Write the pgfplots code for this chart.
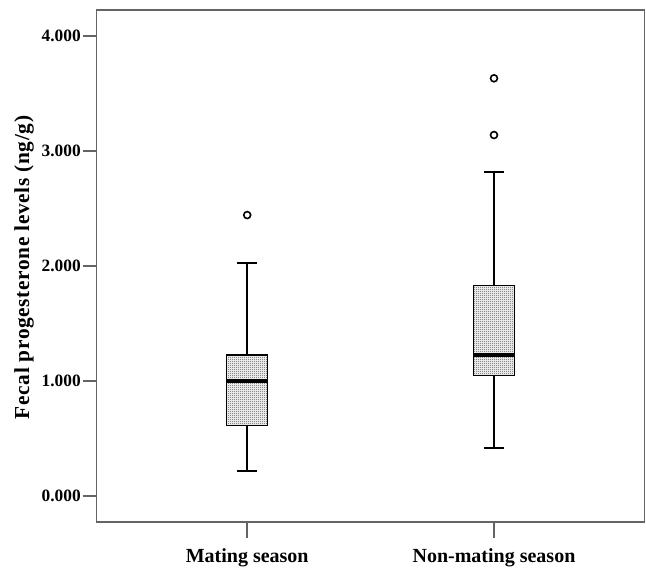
\documentclass[border=0pt]{standalone}
\usepackage{fontspec}
\setmainfont{Liberation Serif}
\newfontfamily\ylabfont[LetterSpace=3]{Liberation Serif}
\usepackage{pgfplots}
\pgfplotsset{compat=1.18}
\usepgfplotslibrary{statistics}
\usetikzlibrary{patterns.meta}
\definecolor{axgray}{RGB}{100,100,100}
\tikzdeclarepattern{
  name=finecheck,
  type=uncolored,
  bottom left={(0pt,0pt)},
  top right={(1.5pt,1.5pt)},
  tile size={(1.5pt,1.5pt)},
  code={
    \pgfpathrectangle{\pgfpointorigin}{\pgfqpoint{0.75pt}{0.75pt}}
    \pgfpathrectangle{\pgfqpoint{0.75pt}{0.75pt}}{\pgfqpoint{0.75pt}{0.75pt}}
    \pgfusepath{fill}
  }
}
\begin{document}
\begin{tikzpicture}
\useasboundingbox (-72.5pt,-34.5pt) rectangle (412pt,391.5pt);
\begin{axis}[
  at={(0,0)}, anchor=south west,
  scale only axis, width=410.9pt, height=384pt,
  xmin=0.39, xmax=2.61, ymin=-0.226, ymax=4.226,
  axis line style={draw=axgray, line width=1pt},
  tick align=outside,
  xtick pos=bottom, ytick pos=left,
  xtick={1,2}, xticklabels={Mating season, Non-mating season},
  ytick={0,1,2,3,4}, yticklabels={0.000,1.000,2.000,3.000,4.000},
  x tick style={draw=axgray, line width=1.2pt, /pgfplots/major tick length=12pt},
  y tick style={draw=axgray, line width=1.2pt, /pgfplots/major tick length=10.5pt},
  yticklabel style={font=\fontsize{13}{15}\selectfont\bfseries, anchor=east, inner sep=0pt, xshift=-7.5pt},
  xticklabel style={font=\fontsize{15}{18}\selectfont\bfseries, anchor=base, inner sep=0pt, yshift=-26pt},
  ylabel={Fecal progesterone levels (ng/g)},
  ylabel style={font=\ylabfont\bfseries\fontsize{16}{19}\selectfont, at={(axis description cs:-0.1326,0.497)}, anchor=center},
  boxplot/draw direction=y,
]
\addplot[draw=black, line width=1.5pt, mark=o, mark size=2.6pt, mark options={line width=1.2pt, solid, fill=none, draw=black},
  boxplot prepared={draw position=1, lower whisker=0.220, lower quartile=0.611, median=1.000, upper quartile=1.226, upper whisker=2.023, box extend=0.166, whisker extend=0.083,
  every box/.style={draw=black, line width=1.1pt, pattern=finecheck, pattern color=black!72},
  every median/.style={line width=2.3pt}}]
  table[row sep=\\, y index=0]{y\\ 2.443\\};
\addplot[draw=black, line width=1.5pt, mark=o, mark size=2.6pt, mark options={line width=1.2pt, solid, fill=none, draw=black},
  boxplot prepared={draw position=2, lower whisker=0.415, lower quartile=1.046, median=1.226, upper quartile=1.829, upper whisker=2.820, box extend=0.166, whisker extend=0.083,
  every box/.style={draw=black, line width=1.1pt, pattern=finecheck, pattern color=black!72},
  every median/.style={line width=2.3pt}}]
  table[row sep=\\, y index=0]{y\\ 3.139\\ 3.632\\};
\end{axis}
\end{tikzpicture}
\end{document}
